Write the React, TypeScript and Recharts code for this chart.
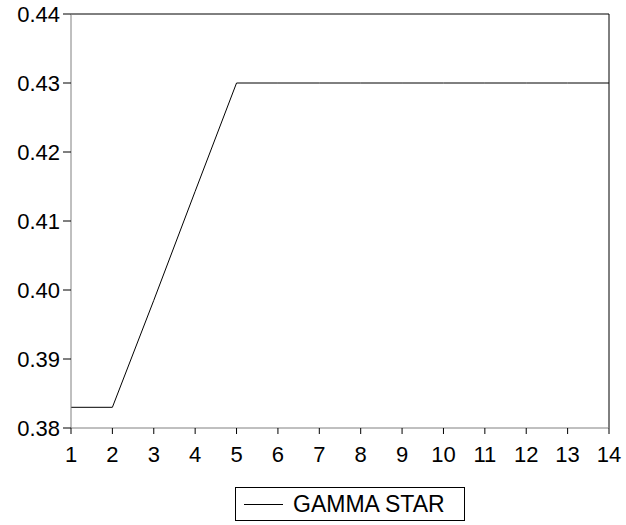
import React from "react";
import { LineChart, Line, XAxis, YAxis, ReferenceLine, Legend } from "recharts";

const periods = [1, 2, 3, 4, 5, 6, 7, 8, 9, 10, 11, 12, 13, 14];
const gammaStar = [0.383, 0.383, 0.3985, 0.4143, 0.43, 0.43, 0.43, 0.43, 0.43, 0.43, 0.43, 0.43, 0.43, 0.43];
const yTicks = [0.38, 0.39, 0.4, 0.41, 0.42, 0.43, 0.44];
const seriesName = "GAMMA STAR";

const data = periods.map((p, i) => ({ period: p, value: gammaStar[i] }));

const font = "'Liberation Sans', Arial, sans-serif";

const LegendBox = () => (
  <div
    style={{
      width: 230,
      height: 34,
      border: "1px solid #000",
      boxSizing: "border-box",
      display: "flex",
      alignItems: "center",
      fontFamily: font,
      fontSize: 23,
      color: "#000",
    }}
  >
    <div style={{ width: 39, height: 0, borderTop: "1px solid #000", marginLeft: 8, marginRight: 10 }} />
    <span>{seriesName}</span>
  </div>
);

export default function App() {
  return (
    <div style={{ position: "absolute", left: 0, top: 0, background: "#fff" }}>
      <LineChart width={626} height={525} data={data} margin={{ top: 14, right: 17, bottom: 13, left: 0 }}>
        <XAxis
          dataKey="period"
          type="number"
          domain={[1, 14]}
          ticks={periods}
          interval={0}
          stroke="#808080"
          tickLine={{ stroke: "#000" }}
          tickSize={6}
          tickMargin={12}
          tick={{ fill: "#000", fontSize: 22, fontFamily: font }}
          height={50}
        />
        <YAxis
          type="number"
          domain={[0.38, 0.44]}
          ticks={yTicks}
          interval={0}
          tickFormatter={(v: number) => v.toFixed(2)}
          stroke="#808080"
          tickLine={{ stroke: "#000" }}
          tickSize={8}
          tickMargin={3}
          tick={{ fill: "#000", fontSize: 22, fontFamily: font }}
          width={71}
        />
        <ReferenceLine y={0.44} stroke="#000" strokeWidth={1} />
        <ReferenceLine x={14} stroke="#000" strokeWidth={1} />
        <Line
          type="linear"
          dataKey="value"
          name={seriesName}
          stroke="#000"
          strokeWidth={1}
          dot={false}
          isAnimationActive={false}
        />
        <Legend
          content={<LegendBox />}
          wrapperStyle={{ position: "absolute", left: 235, top: 487, width: 230, height: 34 }}
        />
      </LineChart>
    </div>
  );
}
